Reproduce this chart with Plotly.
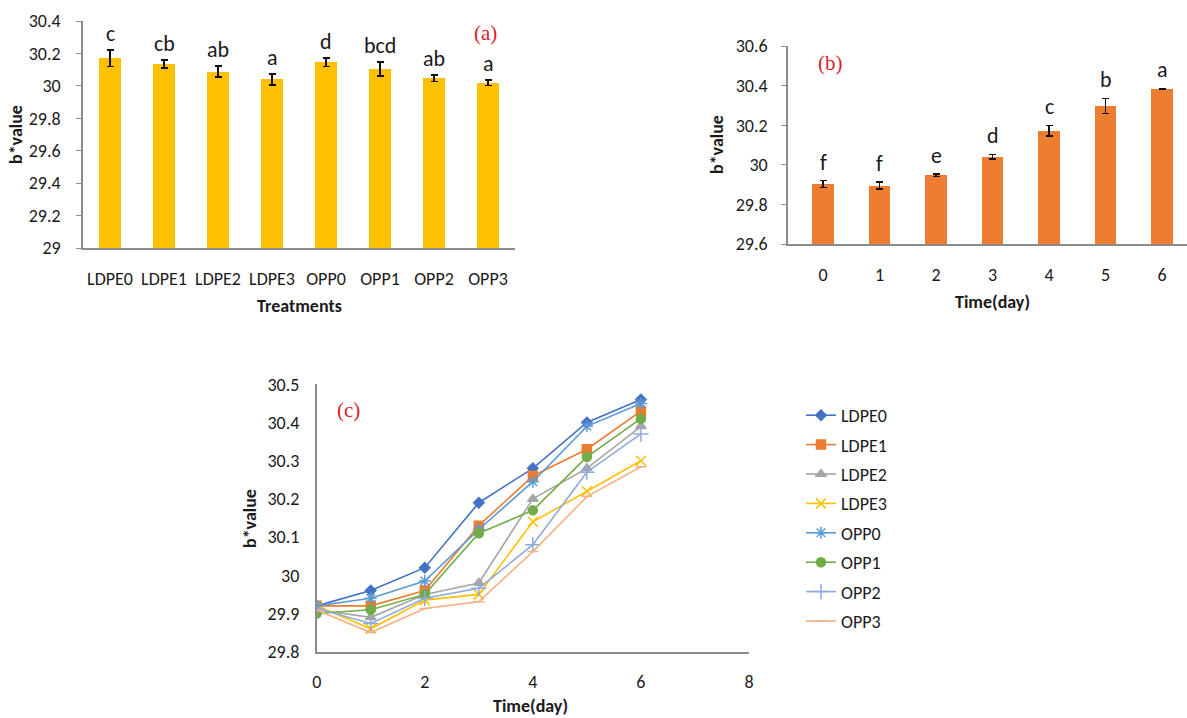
import plotly.graph_objects as go

# ---------------- data ----------------
treatments = ["LDPE0", "LDPE1", "LDPE2", "LDPE3", "OPP0", "OPP1", "OPP2", "OPP3"]
a_values = [30.17, 30.135, 30.087, 30.04, 30.145, 30.104, 30.046, 30.02]
a_errors = [0.05, 0.025, 0.034, 0.033, 0.026, 0.044, 0.02, 0.018]
a_letters = ["c", "cb", "ab", "a", "d", "bcd", "ab", "a"]

days = [0, 1, 2, 3, 4, 5, 6]
b_values = [29.903, 29.895, 29.947, 30.041, 30.172, 30.297, 30.383]
b_errors = [0.017, 0.018, 0.007, 0.012, 0.027, 0.038, 0.003]
b_letters = ["f", "f", "e", "d", "c", "b", "a"]

c_series = {
    "LDPE0": [29.92, 29.96, 30.02, 30.19, 30.28, 30.40, 30.46],
    "LDPE1": [29.92, 29.92, 29.96, 30.13, 30.26, 30.33, 30.43],
    "LDPE2": [29.91, 29.89, 29.95, 29.98, 30.20, 30.28, 30.39],
    "LDPE3": [29.92, 29.86, 29.935, 29.95, 30.14, 30.22, 30.30],
    "OPP0":  [29.92, 29.94, 29.985, 30.12, 30.245, 30.39, 30.45],
    "OPP1":  [29.90, 29.91, 29.95, 30.11, 30.17, 30.31, 30.41],
    "OPP2":  [29.913, 29.874, 29.94, 29.966, 30.08, 30.27, 30.37],
    "OPP3":  [29.909, 29.85, 29.913, 29.931, 30.062, 30.206, 30.284],
}
c_colors = ["#4472C4", "#ED7D31", "#A5A5A5", "#FFC000", "#5B9BD5", "#70AD47", "#8FAADC", "#F4B183"]
c_symbols = ["diamond", "square", "triangle-up", "x-thin-open", "asterisk-open",
             "circle", "cross-thin-open", "line-ew-open"]
c_sizes = [8, 9, 9, 10, 10, 9, 11, 8]

FONT = "Carlito, 'Liberation Sans Narrow', 'DejaVu Sans Condensed', 'Open Sans', sans-serif"
AXC = "#8c8c8c"
TXT = "#1a1a1a"
RED = "#d9232a"

W, H = 1187, 718
def px(x):
    return x / W
def py(y):
    return 1 - y / H

fig = go.Figure()

# ---- panel (a) ----
fig.add_trace(go.Bar(
    x=list(range(len(treatments))), y=[v - 29 for v in a_values], base=29,
    marker_color="#FFC000", width=0.41,
    error_y=dict(type="data", array=a_errors, color="#111", thickness=1.6, width=3.5),
    xaxis="x", yaxis="y", showlegend=False))

# ---- panel (b) ----
fig.add_trace(go.Bar(
    x=days, y=[v - 29.6 for v in b_values], base=29.6,
    marker_color="#ED7D31", width=0.38,
    error_y=dict(type="data", array=b_errors, color="#111", thickness=1.6, width=3.5),
    xaxis="x2", yaxis="y2", showlegend=False))

# ---- panel (c) ----
for i, (name, vals) in enumerate(c_series.items()):
    fig.add_trace(go.Scatter(
        x=days, y=vals, name=name, mode="lines+markers",
        line=dict(color=c_colors[i], width=1.6),
        marker=dict(symbol=c_symbols[i], size=c_sizes[i], color=c_colors[i],
                    line=dict(color=c_colors[i], width=1.5)),
        legendgroup=name, xaxis="x3", yaxis="y3"))

tickfont = dict(family=FONT, size=18, color=TXT)
common_y = dict(showgrid=False, zeroline=False, showline=True, linecolor=AXC, linewidth=1.5,
                tickfont=tickfont, ticks="outside", ticklen=5, tickcolor=AXC, automargin=False)
common_x = dict(showgrid=False, zeroline=False, showline=True, linecolor=AXC, linewidth=1.5,
                tickfont=tickfont, ticks="", automargin=False)

fig.update_layout(
    template="none",
    width=W, height=H, margin=dict(l=0, r=0, t=0, b=0, autoexpand=False),
    paper_bgcolor="white", plot_bgcolor="white",
    bargap=0,
    xaxis=dict(common_x, domain=[px(83), px(515)], range=[-0.5, 7.5],
               tickvals=list(range(8)), ticktext=treatments, anchor="y",
               ticklabelstandoff=14),
    yaxis=dict(common_y, domain=[py(248), py(21)], range=[29, 30.4],
               tickvals=[29, 29.2, 29.4, 29.6, 29.8, 30, 30.2, 30.4],
               ticktext=["29", "29.2", "29.4", "29.6", "29.8", "30", "30.2", "30.4"],
               anchor="x", ticklabelstandoff=12),
    xaxis2=dict(common_x, domain=[px(788), 1.0], range=[-0.62, 6.44],
                tickvals=days, ticktext=[str(d) for d in days], anchor="y2",
                ticklabelstandoff=14),
    yaxis2=dict(common_y, domain=[py(244), py(46)], range=[29.6, 30.6],
                tickvals=[29.6, 29.8, 30, 30.2, 30.4, 30.6],
                ticktext=["29.6", "29.8", "30", "30.2", "30.4", "30.6"],
                anchor="x2", ticklabelstandoff=10),
    xaxis3=dict(common_x, domain=[px(316.7), px(749)], range=[0, 8],
                tickvals=[0, 2, 4, 6, 8], ticktext=["0", "2", "4", "6", "8"],
                anchor="y3", ticklabelstandoff=13),
    yaxis3=dict(common_y, domain=[py(651.7), py(384.3)], range=[29.8, 30.5],
                tickvals=[29.8, 29.9, 30, 30.1, 30.2, 30.3, 30.4, 30.5],
                ticktext=["29.8", "29.9", "30", "30.1", "30.2", "30.3", "30.4", "30.5"],
                anchor="x3", ticks="", ticklabelstandoff=12),
    legend=dict(x=px(801), y=py(397), xanchor="left", yanchor="top",
                font=dict(family=FONT, size=18, color=TXT), tracegroupgap=3,
                itemwidth=30, bgcolor="rgba(0,0,0,0)"),
)

annots = []
# letters above bars
for i, (v, e, t) in enumerate(zip(a_values, a_errors, a_letters)):
    annots.append(dict(x=i, y=v + e, xref="x", yref="y", text=t, showarrow=False,
                       xanchor="center", yanchor="bottom", yshift=1,
                       font=dict(family=FONT, size=22, color=TXT)))
for i, (v, e, t) in enumerate(zip(b_values, b_errors, b_letters)):
    annots.append(dict(x=days[i], y=v + e, xref="x2", yref="y2", text=t, showarrow=False,
                       xanchor="center", yanchor="bottom", yshift=3,
                       font=dict(family=FONT, size=22, color=TXT)))

# panel labels
for txt, x, y in [("(a)", 485, 33), ("(b)", 830, 63), ("(c)", 348, 410)]:
    annots.append(dict(x=px(x), y=py(y), xref="paper", yref="paper", text=txt, showarrow=False,
                       xanchor="center", yanchor="middle",
                       font=dict(family="Liberation Serif, Times New Roman, serif", size=21, color=RED)))

# axis titles
tfont = dict(family=FONT, size=18, color=TXT)
for txt, x, y in [("<b>Treatments</b>", 300, 306), ("<b>Time(day)</b>", 993, 302), ("<b>Time(day)</b>", 530, 706)]:
    annots.append(dict(x=px(x), y=py(y), xref="paper", yref="paper", text=txt, showarrow=False,
                       xanchor="center", yanchor="middle", font=tfont))
for x, y in [(16, 135), (717, 145), (250, 518)]:
    annots.append(dict(x=px(x), y=py(y), xref="paper", yref="paper", text="<b>b*value</b>",
                       showarrow=False, textangle=-90, xanchor="center", yanchor="middle", font=tfont))

fig.update_layout(annotations=annots)
fig.write_html("out.html", config={"displayModeBar": False},
               post_script="document.body.style.margin='0';document.body.style.padding='0';")
